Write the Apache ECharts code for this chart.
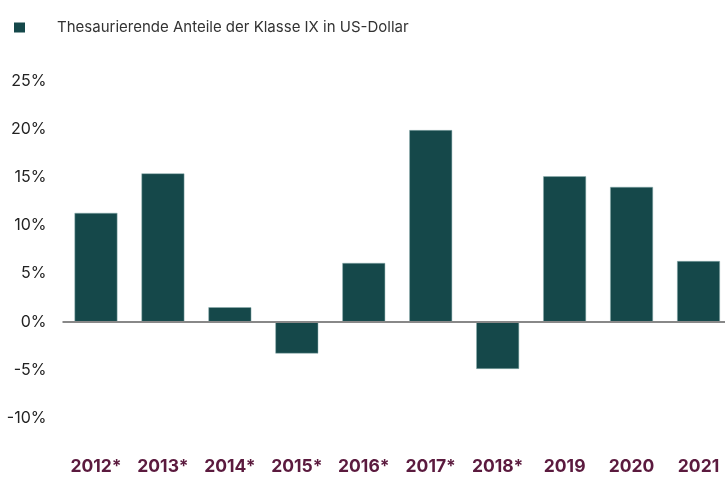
<!DOCTYPE html>
<html>
<head>
<meta charset="utf-8">
<script src="https://cdn.jsdelivr.net/npm/echarts@6/dist/echarts.min.js"></script>
<style>
html, body {margin: 0; padding: 0; background: #fff;}
#chart {width: 725px; height: 482px;}
</style>
</head>
<body>
<div id="chart"></div>
<script>
var years = ['2012*', '2013*', '2014*', '2015*', '2016*', '2017*', '2018*', '2019', '2020', '2021'];
var returns = [11.3, 15.4, 1.5, -3.3, 6.1, 19.9, -4.9, 15.1, 14.0, 6.3];
var seriesName = 'Thesaurierende Anteile der Klasse IX in US-Dollar';
var yMin = -10;
var yMax = 25;
var yStep = 5;

var mychart = echarts.init(document.getElementById('chart'));
var option = {
    animation: false,
    textStyle: {fontFamily: 'Inter, "Noto Sans", sans-serif'},
    legend: {
        left: 9,
        top: 15,
        icon: 'rect',
        itemWidth: 11,
        itemHeight: 10,
        data: [seriesName],
        itemStyle: {borderWidth: 0},
        textStyle: {
            color: '#333',
            fontSize: 15,
            padding: [-9, 0, 0, 27]
        }
    },
    grid: {left: 62.5, width: 669.5, top: 81, bottom: 64, outerBoundsMode: 'none', containLabel: false},
    xAxis: {
        type: 'category',
        data: years,
        axisLine: {show: false, onZero: false},
        axisTick: {show: false},
        axisLabel: {
            interval: 0,
            color: '#5b1a3e',
            fontSize: 17.5,
            fontWeight: 'bold',
            margin: 40
        }
    },
    yAxis: {
        type: 'value',
        min: yMin,
        max: yMax,
        interval: yStep,
        splitLine: {show: false},
        axisLine: {show: false},
        axisTick: {show: false},
        axisLabel: {
            color: '#222',
            fontSize: 16,
            margin: 16,
            formatter: function (value) {
                return value + '%';
            }
        }
    },
    series: [
        {
            name: seriesName,
            type: 'bar',
            barWidth: '64%',
            data: returns,
            itemStyle: {color: '#15484a', borderColor: '#8fb0b0', borderWidth: 0.5},
            markLine: {
                silent: true,
                symbol: 'none',
                label: {show: false},
                lineStyle: {color: '#888', width: 2, type: 'solid'},
                data: [{yAxis: 0}]
            }
        }
    ]
};
mychart.setOption(option);
</script>
</body>
</html>
